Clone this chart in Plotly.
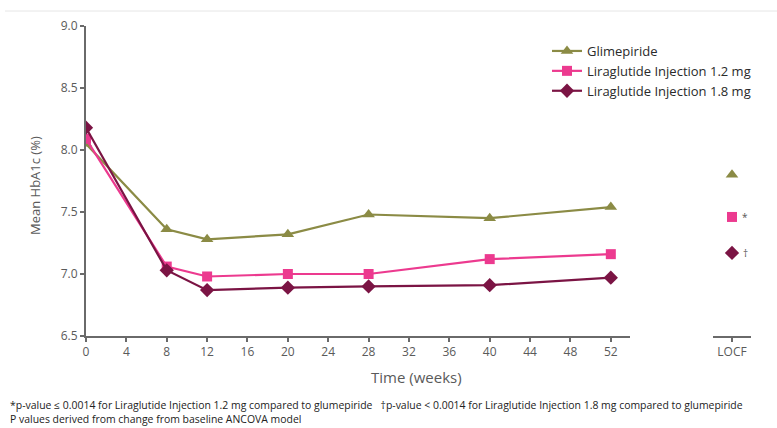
import plotly.graph_objects as go

# Study visits (weeks) and mean HbA1c (%) by treatment arm
weeks = [0, 8, 12, 20, 28, 40, 52]
glimepiride = [8.05, 7.36, 7.28, 7.32, 7.48, 7.45, 7.54]
lira_12 = [8.09, 7.06, 6.98, 7.00, 7.00, 7.12, 7.16]
lira_18 = [8.18, 7.03, 6.87, 6.89, 6.90, 6.91, 6.97]

# Last observation carried forward endpoint values
locf_glimepiride = 7.80
locf_lira_12 = 7.46
locf_lira_18 = 7.17
locf_marks = ["", "*", "†"]

series_names = ["Glimepiride", "Liraglutide Injection 1.2 mg", "Liraglutide Injection 1.8 mg"]
x_ticks = list(range(0, 53, 4))
y_ticks = [6.5, 7.0, 7.5, 8.0, 8.5, 9.0]

colors = ["#8b8b45", "#ec3a8f", "#7b1444"]
symbols = ["triangle-up", "square", "diamond"]
sizes = [11, 10, 11]

W, H = 777, 428
FONT = "Open Sans"
AXIS_GREY = "#6a6a6a"
TEXT_GREY = "#5a5a5a"


def py(pixel_y):
    """Paper y fraction for a pixel row measured from the top."""
    return 1 - pixel_y / H


fig = go.Figure()

for name, vals, c, s, sz in zip(series_names, [glimepiride, lira_12, lira_18], colors, symbols, sizes):
    fig.add_trace(go.Scatter(
        x=weeks, y=vals, name=name, mode="lines+markers",
        line=dict(color=c, width=2.2),
        marker=dict(symbol=s, size=sz, color=c),
        xaxis="x", yaxis="y",
    ))

for vals, c, s, sz, mark in zip([locf_glimepiride, locf_lira_12, locf_lira_18], colors, symbols, sizes, locf_marks):
    fig.add_trace(go.Scatter(
        x=[0], y=[vals], mode="markers", showlegend=False,
        marker=dict(symbol=s, size=sz, color=c),
        xaxis="x2", yaxis="y",
    ))
    if mark:
        fig.add_annotation(x=0, y=vals, xref="x2", yref="y", text=mark,
                           showarrow=False, xshift=13, yanchor="middle",
                           font=dict(family=FONT, size=10, color="#555"))

axis_common = dict(
    showline=True, linecolor=AXIS_GREY, linewidth=2,
    ticks="outside", ticklen=4, tickwidth=1.5, tickcolor=AXIS_GREY,
    showgrid=False, zeroline=False, automargin=False,
    tickfont=dict(family=FONT, size=12, color=TEXT_GREY),
)

fig.update_layout(
    width=W, height=H, autosize=False,
    margin=dict(l=0, r=0, t=0, b=0, pad=0, autoexpand=False),
    paper_bgcolor="white", plot_bgcolor="white",
    xaxis=dict(domain=[86 / W, 630 / W], range=[0, 53.9], anchor="y",
               tickvals=x_ticks, **axis_common),
    xaxis2=dict(domain=[713 / W, 751 / W], range=[-1.9, 1.9], anchor="y",
                tickvals=[0], ticktext=["LOCF"], **axis_common),
    yaxis=dict(domain=[py(336), py(26)], range=[6.5, 9.0], anchor="x",
               tickvals=y_ticks, tickformat=".1f", **axis_common),
    legend=dict(x=547 / W, y=py(36), xanchor="left", yanchor="top",
                font=dict(family=FONT, size=13, color="#2a2a2a"),
                bgcolor="rgba(0,0,0,0)", tracegroupgap=0, itemwidth=30),
    showlegend=True,
)

# Axis titles
fig.add_annotation(x=416 / W, y=py(377), xref="paper", yref="paper",
                   xanchor="center", yanchor="middle",
                   text="Time (weeks)", showarrow=False,
                   font=dict(family=FONT, size=15, color=TEXT_GREY))
fig.add_annotation(x=35 / W, y=py(186), xref="paper", yref="paper",
                   xanchor="center", yanchor="middle",
                   text="Mean HbA1c (%)", showarrow=False, textangle=-90,
                   font=dict(family=FONT, size=13, color=TEXT_GREY))

# Footnotes
fig.add_annotation(x=8 / W, y=py(405), xref="paper", yref="paper",
                   xanchor="left", yanchor="middle",
                   text="*p-value ≤ 0.0014 for Liraglutide Injection 1.2 mg compared to glumepiride"
                        "   †p-value < 0.0014 for Liraglutide Injection 1.8 mg compared to glumepiride",
                   showarrow=False, font=dict(family=FONT, size=10.45, color="#222"))
fig.add_annotation(x=8 / W, y=py(419), xref="paper", yref="paper",
                   xanchor="left", yanchor="middle",
                   text="P values derived from change from baseline ANCOVA model",
                   showarrow=False, font=dict(family=FONT, size=10.45, color="#222"))

# Thin rule across the top of the panel
fig.add_shape(type="line", xref="paper", yref="paper",
              x0=5 / W, x1=1, y0=py(11), y1=py(11),
              line=dict(color="#e6e6e6", width=1))

fig.write_html("out.html")
